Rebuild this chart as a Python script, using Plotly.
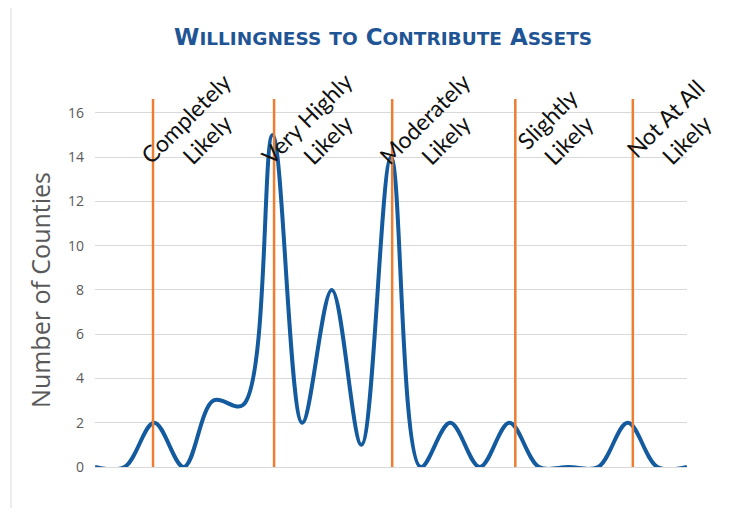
import plotly.graph_objects as go

# ---- data ----
point_index = list(range(21))
counties = [0, 0, 2, 0, 3, 2.8, 15, 2, 8, 1, 14, 0, 2, 0, 2, 0, 0, 0, 2, 0, 0]
category_labels = ["Completely<br>Likely", "Very Highly<br>Likely", "Moderately<br>Likely",
                   "Slightly<br>Likely", "Not At All<br>Likely"]
category_positions = [1.96, 6.05, 10.04, 14.2, 18.17]
y_ticks = [0, 2, 4, 6, 8, 10, 12, 14, 16]

BLUE = "#135A9E"
ORANGE = "#ED7D31"
GRAY_TXT = "#595959"
GRID = "#D9D9D9"

fig = go.Figure()
fig.add_trace(go.Scatter(
    x=point_index, y=counties, mode="lines",
    line=dict(color=BLUE, width=4, shape="spline", smoothing=1.0),
    hoverinfo="skip", showlegend=False,
))

for xp in category_positions:
    fig.add_shape(type="line", xref="x", yref="paper", x0=xp, x1=xp, y0=0, y1=1,
                  line=dict(color=ORANGE, width=2.5), layer="above")

for xp, lab in zip(category_positions, category_labels):
    fig.add_annotation(x=xp, y=0.918, xref="x", yref="paper", text=lab,
                       textangle=-45, showarrow=False, xanchor="center", yanchor="middle",
                       xshift=43, align="center",
                       font=dict(family="Lato", size=23, color="#111111"))

small = "font-size:18.5px"
title_html = ("<b>W<span style='%s'>ILLINGNESS</span> <span style='%s'>TO</span> "
              "C<span style='%s'>ONTRIBUTE</span> A<span style='%s'>SSETS</span></b>") % (small, small, small, small)
fig.add_annotation(x=0.487, y=1.168, xref="paper", yref="paper", text=title_html,
                   showarrow=False, xanchor="center", yanchor="middle",
                   font=dict(family="DejaVu Sans", size=23, color="#1F5495"))

# y axis title
fig.add_annotation(x=-0.093, y=0.481, xref="paper", yref="paper", text="Number of Counties",
                   textangle=-90, showarrow=False, xanchor="center", yanchor="middle",
                   font=dict(family="Open Sans", size=25, color=GRAY_TXT))

# outer frame (left edge)
fig.add_shape(type="line", xref="paper", yref="paper", x0=-0.1419, x1=-0.1419, y0=-0.2, y1=1.3,
              line=dict(color="#D9D9D9", width=1))

# page body has an 8px margin: shift plot area so it lands at x 95-687, y 99-467
fig.update_layout(
    width=744, height=508,
    margin=dict(l=87, r=65, t=91, b=49),
    paper_bgcolor="white", plot_bgcolor="white",
    xaxis=dict(range=[0, 20], showticklabels=False, showgrid=False, zeroline=False,
               showline=False, fixedrange=True),
    yaxis=dict(range=[0, 16.63], tickvals=y_ticks, showgrid=True, gridcolor=GRID, gridwidth=1,
               zeroline=True, zerolinecolor=GRID, zerolinewidth=1, showline=False,
               tickfont=dict(family="Open Sans", size=14, color=GRAY_TXT),
               ticklabelstandoff=10, fixedrange=True),
)

fig.write_html("out.html")
